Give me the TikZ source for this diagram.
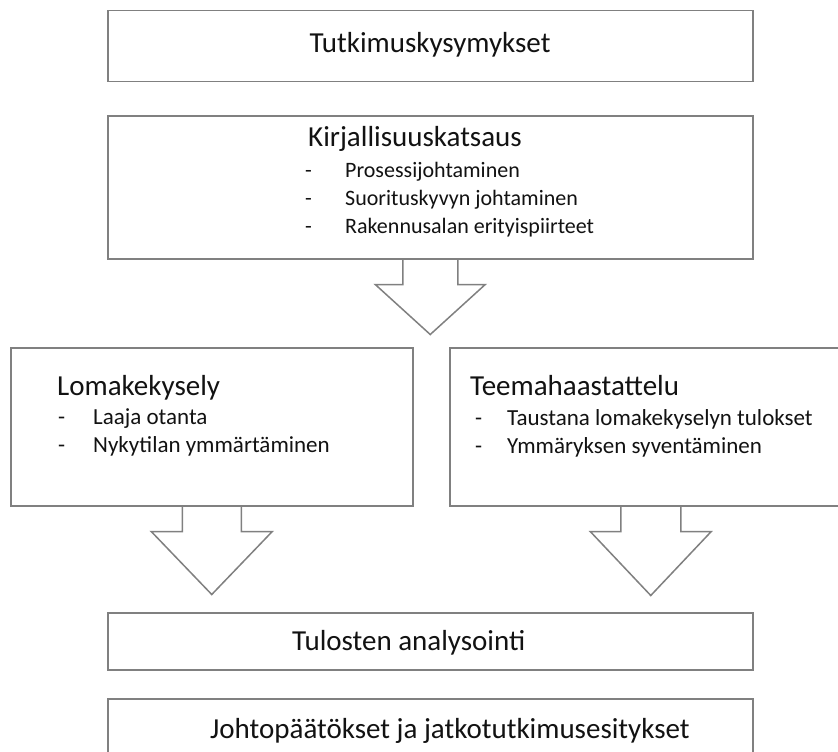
\documentclass[tikz,border=0pt]{standalone}
\usepackage{fontspec}
\setmainfont{Carlito}
\usetikzlibrary{calc}
\definecolor{edge}{RGB}{128,128,128}
\definecolor{ink}{RGB}{18,18,18}
\tikzset{
  panel/.style={draw=edge, line width=1.5pt, fill=white, rectangle, inner sep=0pt, anchor=north west},
  blockarrow/.style={draw=edge, line width=1.5pt, line join=miter},
  headtext/.style={font=\fontsize{29}{34}\selectfont, text=ink, inner sep=0pt, anchor=base west},
  itemtext/.style={font=\fontsize{22}{26}\selectfont, text=ink, inner sep=0pt, anchor=base west},
  itemlarge/.style={itemtext, font=\fontsize{23}{27}\selectfont},
}
\begin{document}
\begin{tikzpicture}[x=1pt,y=-1pt]
\useasboundingbox (0,0) rectangle (838,752);
\fill[white] (0,0) rectangle (838,752);
\clip (0,0) rectangle (838,752);

% boxes
\node[panel, minimum width=645pt, minimum height=71pt]  (questions) at (107,10)  {};
\node[panel, minimum width=645pt, minimum height=143pt] (review)    at (107,115) {};
\node[panel, minimum width=402pt, minimum height=158pt] (survey)    at (10,347)  {};
\node[panel, minimum width=402pt, minimum height=158pt] (interview) at (449,347) {};
\node[panel, minimum width=645pt, minimum height=57pt]  (analysis)  at (107,612) {};
\node[panel, minimum width=645pt, minimum height=80pt]  (results)   at (107,698) {};

% block arrows below the boxes
\draw[blockarrow] ($(review.south)+(-27.5,0)$) -- ++(0,25) -- ++(-27.5,0)
  -- ($(review.south)+(0,75)$) -- ($(review.south)+(55,25)$)
  -- ++(-27.5,0) -- ($(review.south)+(27.5,0)$);
\draw[blockarrow] ($(survey.south)+(-29.5,0)$) -- ++(0,25) -- ++(-31,0)
  -- ($(survey.south)+(0,88)$) -- ($(survey.south)+(60.5,25)$)
  -- ++(-31,0) -- ($(survey.south)+(29.5,0)$);
\draw[blockarrow] ($(interview.south)+(-30,0)$) -- ++(0,25) -- ++(-30.5,0)
  -- ($(interview.south)+(0,89)$) -- ($(interview.south)+(60.5,25)$)
  -- ++(-30.5,0) -- ($(interview.south)+(30,0)$);

% texts
\node[headtext, anchor=base] (tq) at (430,53) {Tutkimuskysymykset};

\node[headtext] (tr) at (308,146) {Kirjallisuuskatsaus};
\node[itemtext] (dr1) at (305,177) {-};
\node[itemtext] (ir1) at (345,177) {Prosessijohtaminen};
\node[itemtext] (dr2) at (305,205) {-};
\node[itemtext] (ir2) at (345,205) {Suorituskyvyn johtaminen};
\node[itemtext] (dr3) at (305,233) {-};
\node[itemtext] (ir3) at (345,233) {Rakennusalan erityispiirteet};

\node[headtext] (ts) at (57,395) {Lomakekysely};
\node[itemlarge] (ds1) at (58,424) {-};
\node[itemlarge] (is1) at (93,424) {Laaja otanta};
\node[itemlarge] (ds2) at (58,452) {-};
\node[itemlarge] (is2) at (93,452) {Nykytilan ymmärtäminen};

\node[headtext] (ti) at (470,395) {Teemahaastattelu};
\node[itemlarge] (di1) at (475,425) {-};
\node[itemlarge] (ii1) at (507,425) {Taustana lomakekyselyn tulokset};
\node[itemlarge] (di2) at (475,453) {-};
\node[itemlarge] (ii2) at (507,453) {Ymmäryksen syventäminen};

\node[headtext] (ta) at (292,650) {Tulosten analysointi};
\node[headtext] (tc) at (210,738) {Johtopäätökset ja jatkotutkimusesitykset};
\end{tikzpicture}
\end{document}
